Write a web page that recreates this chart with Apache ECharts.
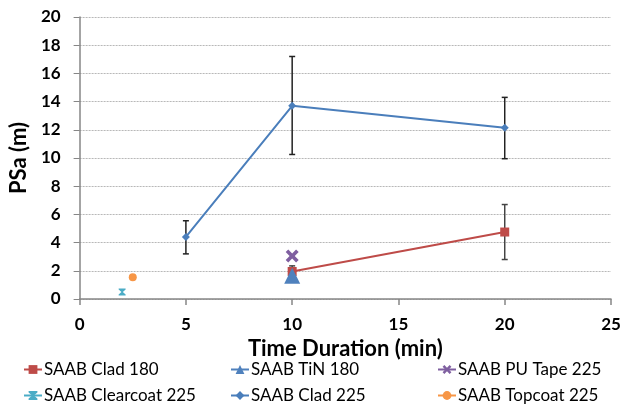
<!DOCTYPE html>
<html><head><meta charset="utf-8">
<script src="https://cdn.jsdelivr.net/npm/echarts@6/dist/echarts.min.js"></script>
<style>html,body{margin:0;padding:0;background:#fff}#c{width:634px;height:407px}</style>
</head><body><div id="c"></div>
<script>
const xTicks = [0, 5, 10, 15, 20, 25];
const yTicks = [0, 2, 4, 6, 8, 10, 12, 14, 16, 18, 20];

const clad180X = [10, 20];
const clad180Y = [1.95, 4.75];
const clad180Lo = [1.6, 2.8];
const clad180Hi = [2.35, 6.7];

const tin180X = [10];
const tin180Y = [1.65];

const puTape225X = [10];
const puTape225Y = [3.05];

const clearcoat225X = [2];
const clearcoat225Y = [0.5];

const clad225X = [5, 10, 20];
const clad225Y = [4.4, 13.7, 12.15];
const clad225Lo = [3.2, 10.25, 9.95];
const clad225Hi = [5.55, 17.2, 14.3];

const topcoat225X = [2.5];
const topcoat225Y = [1.55];

const pts = (xs, ys) => xs.map((x, i) => [x, ys[i]]);
const errs = (xs, lo, hi) => xs.map((x, i) => [x, lo[i], hi[i]]);

function errRender(color) {
  return function (params, api) {
    const top = api.coord([api.value(0), api.value(2)]);
    const bot = api.coord([api.value(0), api.value(1)]);
    const c = 3;
    const st = { stroke: color, lineWidth: 1.5 };
    return {
      type: 'group',
      children: [
        { type: 'line', shape: { x1: top[0], y1: top[1], x2: bot[0], y2: bot[1] }, style: st },
        { type: 'line', shape: { x1: top[0] - c, y1: top[1], x2: top[0] + c, y2: top[1] }, style: st },
        { type: 'line', shape: { x1: bot[0] - c, y1: bot[1], x2: bot[0] + c, y2: bot[1] }, style: st }
      ]
    };
  };
}

const FONT = 'Lato, "Open Sans", sans-serif';
const xPath = 'path://M2,0 L5,3 L8,0 L10,2 L7,5 L10,8 L8,10 L5,7 L2,10 L0,8 L3,5 L0,2 Z';
const starPath = 'path://M0,0 L10,0 L10,1.5 L6,5 L10,8.5 L10,10 L0,10 L0,8.5 L4,5 L0,1.5 Z';

const chart = echarts.init(document.getElementById('c'), null, { renderer: 'canvas' });
function leg(name, left, top) {
  return {
    data: [name], left: left, top: top, itemWidth: 18, itemHeight: 11, itemGap: 0, padding: 0,
    textStyle: { fontFamily: FONT, fontSize: 17, color: '#000', padding: [0, 0, 0, -3] }
  };
}
chart.setOption({
  animation: false,
  grid: { left: 79, right: 23, top: 17, bottom: 108 },
  legend: [
    leg('SAAB Clad 180', 23, 361),
    leg('SAAB Clearcoat 225', 23, 387),
    leg('SAAB TiN 180', 230, 361),
    leg('SAAB Clad 225', 230, 387),
    leg('SAAB PU Tape 225', 437, 361),
    leg('SAAB Topcoat 225', 437, 387)
  ],
  xAxis: {
    type: 'value', min: xTicks[0], max: xTicks[xTicks.length - 1], interval: 5,
    name: 'Time Duration (min)', nameLocation: 'middle', nameGap: 36,
    nameTextStyle: { fontFamily: FONT, fontSize: 22, fontWeight: 'bold', color: '#000' },
    axisLine: { lineStyle: { color: '#868686', width: 1.5 } },
    axisTick: { show: true, length: 6, lineStyle: { color: '#868686', width: 1.5 } },
    axisLabel: { fontFamily: FONT, fontSize: 17, fontWeight: 'bold', color: '#000', margin: 17 },
    splitLine: { show: false }
  },
  yAxis: {
    type: 'value', min: yTicks[0], max: yTicks[yTicks.length - 1], interval: 2,
    name: 'PSa (m)', nameLocation: 'middle', nameGap: 40,
    nameTextStyle: { fontFamily: FONT, fontSize: 22, fontWeight: 'bold', color: '#000' },
    axisLine: { show: true, lineStyle: { color: '#868686', width: 1.5 } },
    axisTick: { show: true, length: 6, lineStyle: { color: '#868686' } },
    axisLabel: { fontFamily: FONT, fontSize: 17, fontWeight: 'bold', color: '#000', margin: 19 },
    splitLine: { show: true, lineStyle: { color: '#b8b8b8', type: [2, 1], width: 1 } }
  },
  series: [
    { name: 'SAAB Clad 225 err', type: 'custom', renderItem: errRender('#222'), data: errs(clad225X, clad225Lo, clad225Hi), encode: { x: 0, y: [1, 2] }, z: 3 },
    { name: 'SAAB Clad 180 err', type: 'custom', renderItem: errRender('#444'), data: errs(clad180X, clad180Lo, clad180Hi), encode: { x: 0, y: [1, 2] }, z: 3 },
    { name: 'SAAB Clad 180', type: 'line', data: pts(clad180X, clad180Y), color: '#BE4B48',
      symbol: 'rect', symbolSize: 9, lineStyle: { width: 2, color: '#BE4B48' }, itemStyle: { color: '#BE4B48' }, z: 4 },
    { name: 'SAAB Clad 225', type: 'line', data: pts(clad225X, clad225Y), color: '#4A7EBB',
      symbol: 'diamond', symbolSize: 8, lineStyle: { width: 2, color: '#4A7EBB' }, itemStyle: { color: '#4A7EBB' }, z: 4 },
    { name: 'SAAB TiN 180', type: 'line', data: pts(tin180X, tin180Y), color: '#4F81BD',
      symbol: 'triangle', symbolSize: 16, lineStyle: { width: 2, color: '#4F81BD' }, itemStyle: { color: '#4F81BD' }, z: 5 },
    { name: 'SAAB PU Tape 225', type: 'line', data: pts(puTape225X, puTape225Y), color: '#7F5FA0',
      symbol: xPath, symbolSize: 13, lineStyle: { width: 2, color: '#7F5FA0' }, itemStyle: { color: '#7F5FA0' }, z: 5 },
    { name: 'SAAB Clearcoat 225', type: 'line', data: pts(clearcoat225X, clearcoat225Y), color: '#4BACC6',
      symbol: starPath, symbolSize: 7, lineStyle: { width: 2, color: '#4BACC6' }, itemStyle: { color: '#4BACC6' }, z: 5 },
    { name: 'SAAB Topcoat 225', type: 'line', data: pts(topcoat225X, topcoat225Y), color: '#F79646',
      symbol: 'circle', symbolSize: 8, lineStyle: { width: 2, color: '#F79646' }, itemStyle: { color: '#F79646' }, z: 5 }
  ]
});
</script></body></html>
